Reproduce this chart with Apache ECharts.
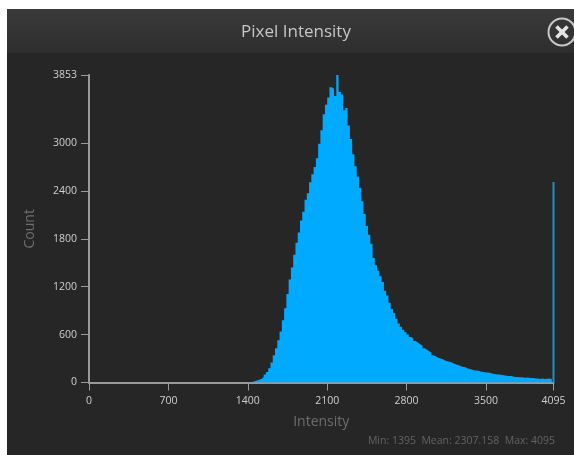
<!DOCTYPE html>
<html><head><meta charset="utf-8">
<style>html,body{margin:0;padding:0;background:#fff}#c{width:574px;height:455px;filter:blur(0.55px)}</style>
<script src="https://cdn.jsdelivr.net/npm/echarts@6/dist/echarts.min.js"></script>
</head><body><div id="c"></div>
<script>
const titleText = "Pixel Intensity";
const statsText = "Min: 1395  Mean: 2307.158  Max: 4095";
const xTicks = [0,700,1400,2100,2800,3500,4095];
const yTicks = [0,600,1200,1800,2400,3000,3853];
const binStart = 1400, binWidth = 20;
const counts = [0,5,15,25,35,45,70,100,130,180,250,340,430,530,640,780,930,1110,1290,1440,
1600,1750,1880,2030,2140,2290,2370,2510,2610,2700,2810,2990,3160,3360,3480,3570,3700,3680,3590,3853,
3640,3610,3410,3440,3220,3050,2860,2710,2580,2440,2270,2110,1960,1850,1740,1560,1470,1400,1330,1260,
1150,1090,1000,920,870,800,740,700,660,630,600,570,550,520,500,480,460,430,410,390,
370,340,325,310,300,290,275,265,260,250,235,225,215,205,195,190,175,170,160,150,
150,145,135,130,125,125,120,110,105,100,100,95,90,85,80,80,75,70,70,65,
65,60,62,60,55,55,50,50,45,50,45,48,50,45,40];
const spike = [[4095,2512]];
const histogram = counts.map((c,i)=>[binStart+i*binWidth,c]);
const W=574,H=455;
const chart = echarts.init(document.getElementById('c'),null,{renderer:'canvas'});
const fontFamily = '"Open Sans", sans-serif';
const plain = v => String(v);
chart.setOption({
  animation:false,
  backgroundColor:'#fff',
  grid:{left:89,right:20.5,top:75,bottom:72.5},
  xAxis:{type:'value',min:0,max:4095,name:'Intensity',nameLocation:'middle',nameGap:33,
    nameTextStyle:{color:'#6e6e6e',fontSize:14,fontFamily},
    splitLine:{show:false},
    axisLine:{show:true,lineStyle:{color:'#9a9a9a',width:2}},
    axisTick:{show:true,length:8,inside:false,customValues:xTicks,lineStyle:{color:'#9a9a9a',width:1}},
    axisLabel:{customValues:xTicks,formatter:plain,color:'#cfcfcf',fontSize:10.5,fontFamily,margin:13,showMinLabel:true,showMaxLabel:true}},
  yAxis:{type:'value',min:0,max:3853,name:'Count',nameLocation:'middle',nameGap:52,
    nameTextStyle:{color:'#6e6e6e',fontSize:14,fontFamily},
    splitLine:{show:false},
    axisLine:{show:true,onZero:false,lineStyle:{color:'#9a9a9a',width:2}},
    axisTick:{show:true,length:8,customValues:yTicks,lineStyle:{color:'#9a9a9a',width:1}},
    axisLabel:{customValues:yTicks,formatter:plain,color:'#cfcfcf',fontSize:10.5,fontFamily,margin:12,showMinLabel:true,showMaxLabel:true}},
  series:[
    {type:'line',step:'end',data:histogram,symbol:'none',silent:true,z:3,
      lineStyle:{width:0},itemStyle:{color:'#00aaff'},areaStyle:{color:'#00aaff',opacity:1}},
    {type:'bar',data:spike,barWidth:2,silent:true,z:3,itemStyle:{color:'#1f8fc4'}}
  ],
  graphic:[
    {type:'rect',z:-10,shape:{x:7,y:9,width:W-7,height:H-9},style:{fill:'#262626'},silent:true},
    {type:'rect',z:-9,shape:{x:7,y:9,width:W-7,height:44},silent:true,
      style:{fill:new echarts.graphic.LinearGradient(0,0,0,1,[{offset:0,color:'#3a3a3a'},{offset:1,color:'#2e2e2e'}])}},
    {type:'text',z:5,x:296,y:32,silent:true,style:{text:titleText,fill:'#c6c6c6',font:'17px '+fontFamily,textAlign:'center',textVerticalAlign:'middle'}},
    {type:'circle',z:5,shape:{cx:562,cy:32,r:13.5},silent:true,style:{fill:'none',stroke:'#c8c8c8',lineWidth:2}},
    {type:'line',z:5,shape:{x1:556.5,y1:26.5,x2:567.5,y2:37.5},silent:true,style:{stroke:'#e4e4e4',lineWidth:3.5}},
    {type:'line',z:5,shape:{x1:567.5,y1:26.5,x2:556.5,y2:37.5},silent:true,style:{stroke:'#e4e4e4',lineWidth:3.5}},
    {type:'text',z:5,x:555,y:441.5,silent:true,style:{text:statsText,fill:'#636363',font:'10.5px '+fontFamily,textAlign:'right',textVerticalAlign:'middle'}}
  ]
});
</script></body></html>
